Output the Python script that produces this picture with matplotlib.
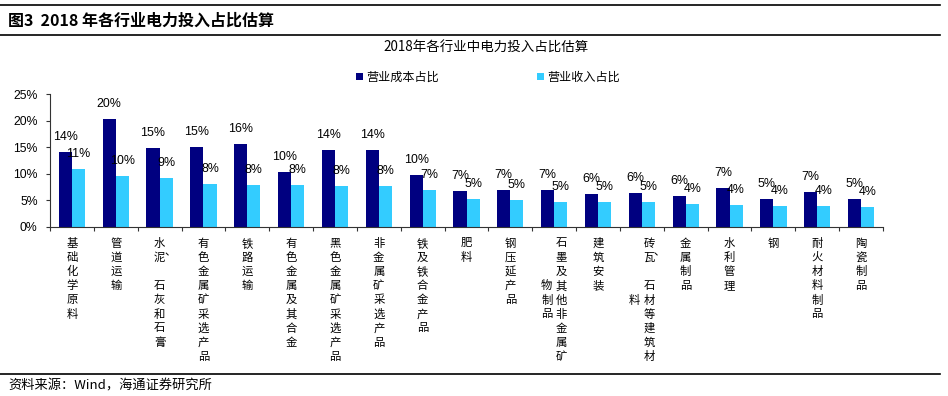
import matplotlib
matplotlib.use("Agg")
import matplotlib.pyplot as plt
from matplotlib.lines import Line2D
import numpy as np

plt.rcParams['font.family'] = ['Noto Sans CJK SC', 'DejaVu Sans']

# ---------------- data ----------------
categories = ["基础化学原料", "管道运输", "水泥、石灰和石膏", "有色金属矿采选产品", "铁路运输",
              "有色金属及其合金", "黑色金属矿采选产品", "非金属矿采选产品", "铁及铁合金产品", "肥料",
              "钢压延产品", "石墨及其他非金属矿物制品", "建筑安装", "砖瓦、石材等建筑材料", "金属制品",
              "水利管理", "钢", "耐火材料制品", "陶瓷制品"]
cost_share = [14.0, 20.35, 14.76, 15.0, 15.64, 10.24, 14.45, 14.4, 9.8, 6.78,
              6.9, 6.97, 6.16, 6.34, 5.78, 7.29, 5.28, 6.53, 5.15]
revenue_share = [10.8, 9.55, 9.1, 8.04, 7.9, 7.9, 7.66, 7.66, 6.97, 5.2,
                 5.0, 4.65, 4.7, 4.6, 4.33, 4.08, 3.9, 3.83, 3.7]
series_names = ["营业成本占比", "营业收入占比"]
y_ticks = [0, 5, 10, 15, 20, 25]
fig_title = "图3  2018 年各行业电力投入占比估算"
chart_title = "2018年各行业中电力投入占比估算"
source_text = "资料来源：Wind，海通证券研究所"

# ---------------- figure ----------------
W, H = 948, 396
DPI = 100
PT = 72 / DPI  # points per pixel
fig = plt.figure(figsize=(W / DPI, H / DPI), dpi=DPI)
fig.patch.set_facecolor("white")

ax = fig.add_axes([50 / W, 1 - 226.7 / H, (883 - 50) / W, (226.7 - 94) / H])

dark = "#000080"
light = "#33CCFF"
num_font = ["Liberation Sans", "DejaVu Sans"]

x = np.arange(len(categories))
bw = 0.3
b1 = ax.bar(x - bw / 2, cost_share, bw, color=dark, label=series_names[0], zorder=2)
b2 = ax.bar(x + bw / 2, revenue_share, bw, color=light, label=series_names[1], zorder=2)

for bars, vals in ((b1, cost_share), (b2, revenue_share)):
    for rect, v in zip(bars, vals):
        ax.annotate(f"{round(v):.0f}%", xy=(rect.get_x() + rect.get_width() / 2, v),
                    xytext=(0, 15 * PT), textcoords="offset points",
                    ha="center", va="center", fontsize=8.9, family=num_font,
                    color="black", zorder=3)

ax.set_xlim(-0.5, len(categories) - 0.5)
ax.set_ylim(0, 25)
ax.set_yticks(y_ticks)
ax.set_yticklabels([f"{t}%" for t in y_ticks], fontsize=8.8, family=num_font)
ax.set_xticks(np.arange(-0.5, len(categories), 1.0))
ax.set_xticklabels([])
ax.tick_params(axis="both", direction="out", length=4 * PT, width=0.8, color="#333333")
ax.tick_params(axis="y", pad=6)
for s in ("top", "right"):
    ax.spines[s].set_visible(False)
for s in ("left", "bottom"):
    ax.spines[s].set_color("#333333")
    ax.spines[s].set_linewidth(0.8)

# vertical stacked category labels (wrap into columns of 9 rows, right to left)
ROWS = 9
ROW_H = 14.2
COL_W = 14.7
FIRST = 16.6
for i, name in enumerate(categories):
    chars = list(name)
    cols = [chars[k:k + ROWS] for k in range(0, len(chars), ROWS)]
    ncol = len(cols)
    n = max(len(c) for c in cols)
    for c, col in enumerate(cols):
        dx = ((ncol - 1) / 2 - c) * COL_W
        start = (n - len(col)) // 2
        for r, ch in enumerate(col):
            row = start + r
            dy = FIRST + ROW_H * row
            if ch == "、":
                tx, ty = dx + 10, dy - ROW_H - 5
            else:
                tx, ty = dx, dy
            ax.annotate(ch, xy=(i, 0), xycoords=("data", "axes fraction"),
                        xytext=(tx * PT, -ty * PT), textcoords="offset points",
                        ha="center", va="center", fontsize=8.2, color="black",
                        annotation_clip=False)

# legend
leg = ax.legend(handles=[b1, b2], loc="center left",
                bbox_to_anchor=(356 / W, 1 - 77 / H), bbox_transform=fig.transFigure,
                ncol=2, frameon=False, fontsize=8.7, handlelength=0.55, handleheight=0.55,
                handletextpad=0.3, columnspacing=8.1, borderpad=0, borderaxespad=0)

# titles and decorations
fig.text(8 / W, 1 - 21 / H, fig_title, fontsize=11.5, fontweight="bold", va="center", ha="left")
fig.text(486 / W, 1 - 48 / H, chart_title, fontsize=9.7, va="center", ha="center")
fig.text(8 / W, 1 - 386 / H, source_text, fontsize=9.5, va="center", ha="left")
for yy in (5, 35, 374):
    fig.add_artist(Line2D([0, 940 / W], [1 - yy / H] * 2, transform=fig.transFigure,
                          color="black", lw=1.2))

fig.savefig("out.png", dpi=DPI, facecolor="white")
